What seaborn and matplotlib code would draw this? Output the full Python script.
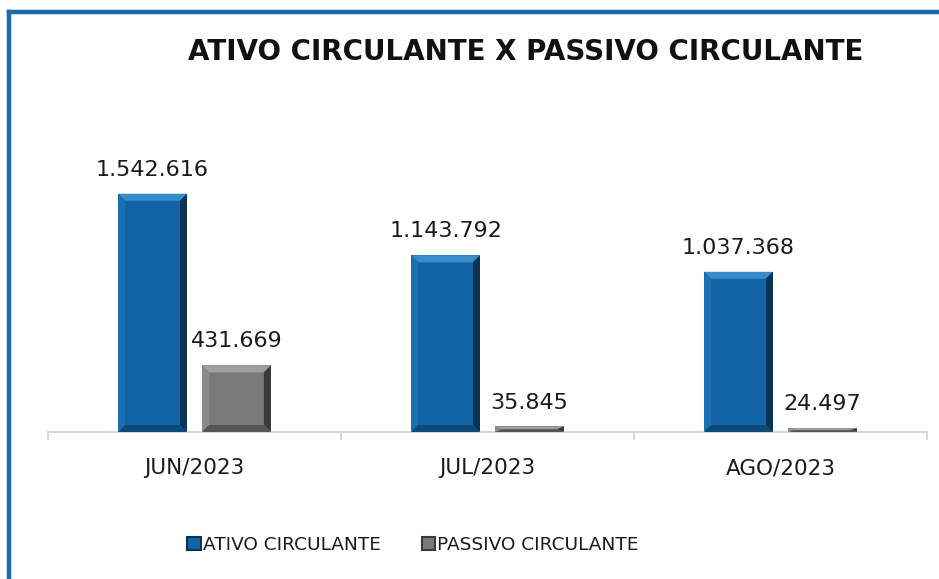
import matplotlib
matplotlib.use("Agg")
import matplotlib.pyplot as plt
import seaborn as sns
import pandas as pd
from matplotlib.patches import Polygon, Patch
from matplotlib.lines import Line2D

months = ["JUN/2023", "JUL/2023", "AGO/2023"]
series = ["ATIVO CIRCULANTE", "PASSIVO CIRCULANTE"]
ativo = [1542616, 1143792, 1037368]
passivo = [431669, 35845, 24497]
title = "ATIVO CIRCULANTE X PASSIVO CIRCULANTE"

df = pd.DataFrame({
    "mes": months * 2,
    "serie": [series[0]] * 3 + [series[1]] * 3,
    "valor": ativo + passivo,
})

sns.set_theme(style="white")
plt.rcParams['font.family'] = ['DejaVu Sans']

face = {series[0]: "#1264a6", series[1]: "#7a7a7a"}
light = {series[0]: "#3a8cc8", series[1]: "#a0a0a0"}
side = {series[0]: "#1a70b2", series[1]: "#8a8a8a"}
dark = {series[0]: "#0a3254", series[1]: "#3a3a3a"}
darker2 = {series[0]: "#0d4a7a", series[1]: "#555555"}

fig = plt.figure(figsize=(9.39, 5.79), dpi=100)
ax = fig.add_axes([48/939, 1-432/579, (927-48)/939, (432-154)/579])

sns.barplot(data=df, x="mes", y="valor", hue="serie", order=months,
            hue_order=series, palette=face, width=0.573, gap=0.18,
            ax=ax, legend=False, linewidth=0, saturation=1)

ax.set_ylim(0, 1800000)
ax.set_xlim(-0.5, 2.5)

# bevel
bev_px = 7
inv = ax.transData.inverted()
for i, p in enumerate(list(ax.patches)[:6]):
    s = series[i // 3]
    x0, y0 = p.get_x(), p.get_y()
    w, h = p.get_width(), p.get_height()
    (dx0, dy0) = inv.transform((0, 0))
    (dx1, dy1) = inv.transform((bev_px, bev_px))
    bx, by = dx1 - dx0, dy1 - dy0
    bx = min(bx, w / 2)
    by = min(by, h / 2)
    x1, y1 = x0 + w, y0 + h
    polys = [
        ([(x0, y1), (x1, y1), (x1 - bx, y1 - by), (x0 + bx, y1 - by)], light[s]),
        ([(x0, y0), (x0, y1), (x0 + bx, y1 - by), (x0 + bx, y0 + by)], side[s]),
        ([(x1, y0), (x1, y1), (x1 - bx, y1 - by), (x1 - bx, y0 + by)], dark[s]),
        ([(x0, y0), (x1, y0), (x1 - bx, y0 + by), (x0 + bx, y0 + by)], darker2[s]),
    ]
    for pts, c in polys:
        ax.add_patch(Polygon(pts, closed=True, facecolor=c, edgecolor="none", zorder=3))

def fmt(v):
    return f"{v:,}".replace(",", ".")

for i, p in enumerate(list(ax.patches)[:6]):
    v = p.get_height()
    ax.annotate(fmt(int(round(v))), (p.get_x() + p.get_width() / 2, v),
                xytext=(0, 10), textcoords="offset points", ha="center",
                va="bottom", fontsize=16, color="#1a1a1a")

for sp in ["top", "right", "left"]:
    ax.spines[sp].set_visible(False)
ax.spines["bottom"].set_color("#d0d0d0")
ax.spines["bottom"].set_linewidth(1.2)
ax.set_yticks([])
ax.set_xlabel("")
ax.set_ylabel("")
ax.set_xticks(range(3))
ax.set_xticklabels(months, fontsize=15.5, color="#1a1a1a")
ax.tick_params(axis="x", which="major", length=0, pad=19)
ax.set_xticks([-0.5, 0.5, 1.5, 2.5], minor=True)
ax.tick_params(axis="x", which="minor", length=6, color="#d0d0d0", width=1.2, bottom=True)

fig.text(526/939, 1-52/579, title, ha="center", va="center",
         fontsize=20, fontweight="bold", color="#111111")

handles = [Patch(facecolor=face[s], edgecolor=dark[s], linewidth=1.5) for s in series]
fig.legend(handles, series, loc="center", bbox_to_anchor=(413/939, 1-545/579),
           ncol=2, frameon=False, fontsize=13.3, handlelength=0.75, handleheight=0.75,
           handletextpad=0.1, columnspacing=2.2, labelcolor="#1a1a1a")

# frame border (left and top)
fig.add_artist(Line2D([9/939, 9/939], [0, 1-12/579], transform=fig.transFigure,
                      color="#1a6aae", linewidth=3.2, solid_capstyle="projecting"))
fig.add_artist(Line2D([9/939, 1], [1-12/579, 1-12/579], transform=fig.transFigure,
                      color="#1a6aae", linewidth=3.2, solid_capstyle="projecting"))

fig.savefig("out.png", dpi=100, facecolor="white")
